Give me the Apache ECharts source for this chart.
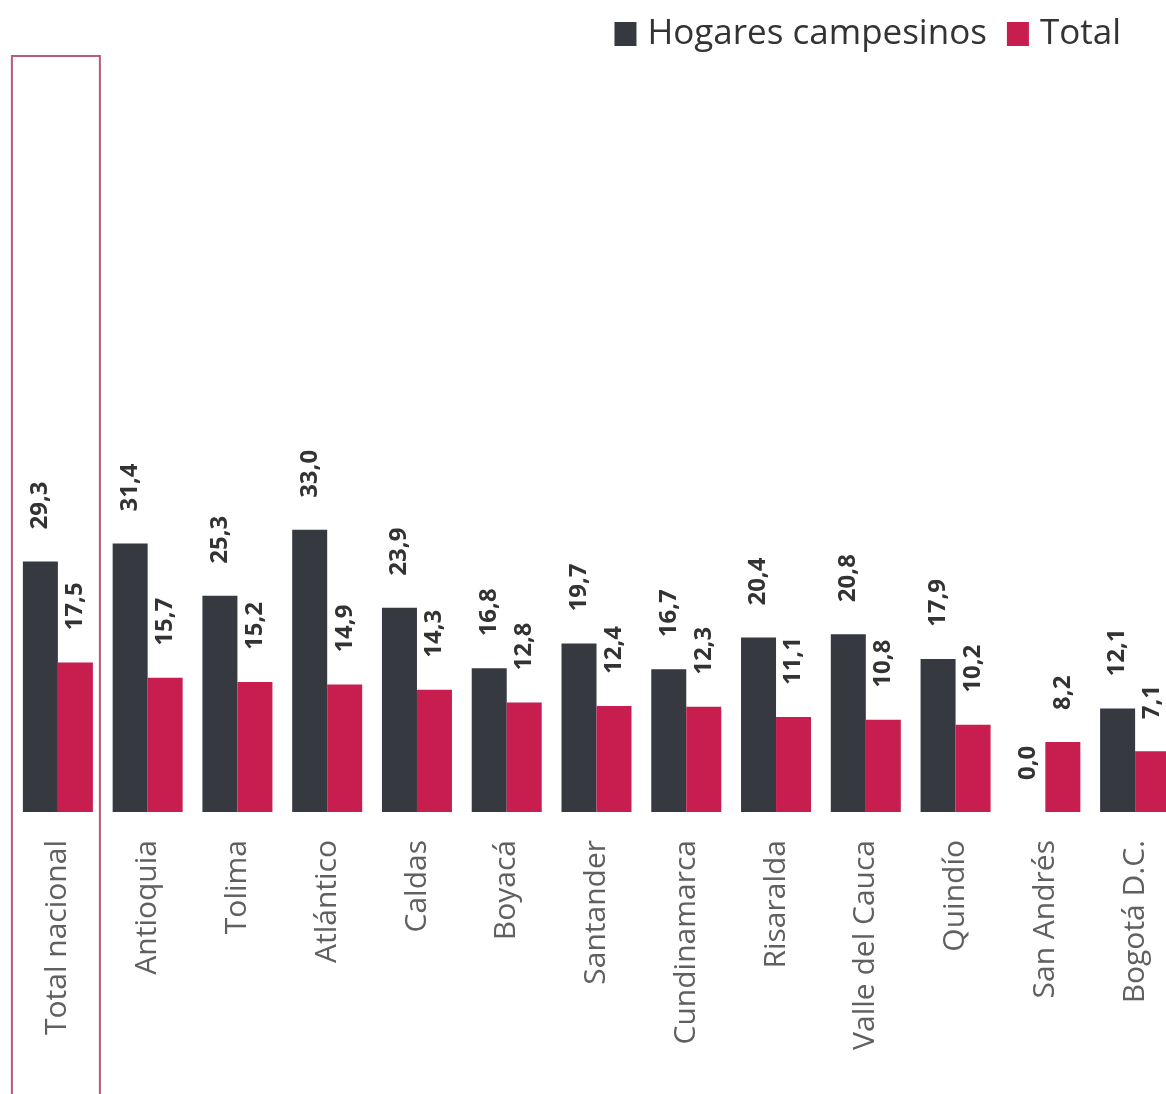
<!DOCTYPE html>
<html>
<head>
<meta charset="utf-8">
<script src="https://cdn.jsdelivr.net/npm/echarts@6/dist/echarts.min.js"></script>
<style>
  html, body { margin: 0; padding: 0; background: #ffffff; }
  #chart { width: 1166px; height: 1094px; }
</style>
</head>
<body>
<div id="chart"></div>
<script>
// Departamentos, de mayor a menor incidencia total
const categories = [
  'Total nacional', 'Antioquia', 'Tolima', 'Atlántico', 'Caldas', 'Boyacá',
  'Santander', 'Cundinamarca', 'Risaralda', 'Valle del Cauca', 'Quindío',
  'San Andrés', 'Bogotá D.C.'
];
const seriesNames = ['Hogares campesinos', 'Total'];
const hogaresCampesinos = [29.3, 31.4, 25.3, 33.0, 23.9, 16.8, 19.7, 16.7, 20.4, 20.8, 17.9, 0.0, 12.1];
const total = [17.5, 15.7, 15.2, 14.9, 14.3, 12.8, 12.4, 12.3, 11.1, 10.8, 10.2, 8.2, 7.1];

const FONT = '"Open Sans", "Noto Sans", sans-serif';
const fmt = p => p.value.toFixed(1).replace('.', ',');

const valueLabel = {
  show: true,
  position: 'top',
  rotate: 90,
  align: 'left',
  verticalAlign: 'middle',
  distance: 28,
  offset: [4, 0],
  formatter: fmt,
  fontFamily: FONT,
  fontWeight: 'bold',
  fontSize: 24,
  color: '#333333'
};

const chart = echarts.init(document.getElementById('chart'));
chart.setOption({
  animation: false,
  backgroundColor: '#ffffff',
  legend: {
    data: seriesNames,
    top: 11,
    right: 40,
    itemWidth: 22,
    itemHeight: 24,
    itemGap: 20,
    icon: 'rect',
    textStyle: {
      fontFamily: FONT, fontSize: 35, lineHeight: 36,
      color: '#333333', padding: [0, 0, 0, 6]
    }
  },
  grid: { left: 13, right: -14, top: 128, bottom: 282, outerBoundsMode: 'none' },
  xAxis: {
    type: 'category',
    data: categories,
    axisLine: { show: false },
    axisTick: { show: false },
    axisLabel: {
      rotate: 90,
      margin: 28,
      interval: 0,
      fontFamily: FONT,
      fontSize: 30,
      color: '#606060'
    }
  },
  yAxis: {
    type: 'value',
    min: 0,
    max: 80,
    show: false,
    splitLine: { show: false }
  },
  series: [
    {
      name: seriesNames[0],
      type: 'bar',
      data: hogaresCampesinos,
      barWidth: 35,
      barGap: '0%',
      itemStyle: { color: '#363940' },
      label: valueLabel
    },
    {
      name: seriesNames[1],
      type: 'bar',
      data: total,
      barWidth: 35,
      barGap: '0%',
      itemStyle: { color: '#c81d4f' },
      label: valueLabel
    }
  ]
});

// Marco que destaca el total nacional, ubicado sobre su categoría
const cx = chart.convertToPixel({ xAxisIndex: 0 }, 0);
chart.setOption({
  graphic: [{
    type: 'rect',
    shape: { x: cx - 46, y: 56, width: 88, height: 1100 },
    style: { fill: 'none', stroke: '#b85a78', lineWidth: 2 },
    silent: true
  }]
});
</script>
</body>
</html>
